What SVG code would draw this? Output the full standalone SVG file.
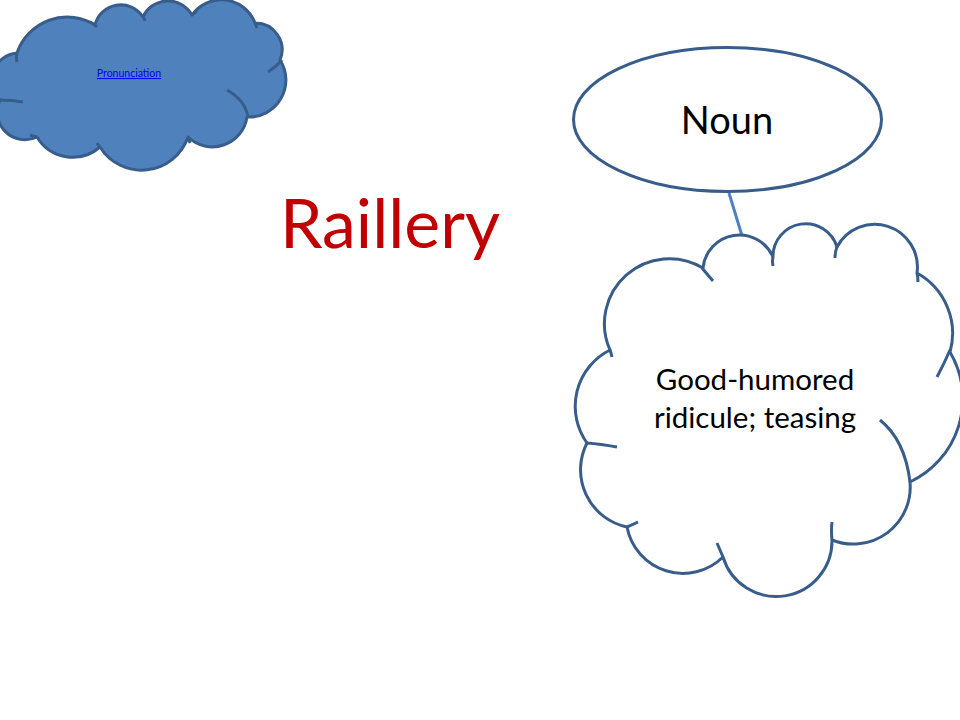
<svg xmlns="http://www.w3.org/2000/svg" width="960" height="720" viewBox="0 0 960 720">
<style>
.cloud{stroke:#385D8A;stroke-width:3;stroke-linejoin:round}
.tick{fill:none;stroke:#385D8A;stroke-width:3;stroke-linecap:butt}
.lbl{font-family:Lato,"Open Sans","Liberation Sans",sans-serif;fill:#000}
</style>
<rect width="960" height="720" fill="#fff"/>
<g id="pronunciation">
<path class="cloud" fill="#4F81BD" d="M17,53 A53,53 0 0 1 95,25 A26.5,26.5 0 0 1 143,17 A27.5,27.5 0 0 1 192,15 A36,36 0 0 1 255,23 A26.7,26.7 0 0 1 280,60 A37,37 0 0 1 247,117 A35,35 0 0 1 188,137 A49,49 0 0 1 100,147 A41.6,41.6 0 0 1 37,137 A27.7,27.7 0 0 1 0,100 A27.5,27.5 0 0 1 17,53 Z"/>
<path class="tick" d="M17,53 Q16,58 17,62 M90,22 Q94,24 97,27 M143,16 Q144,18 145,21 M192,15 Q194,13 197,11 M255,23 Q256,25 257,28 M282,60 Q276,67 268,72 M227,90 Q245,100 248,117 M188,137 Q189,140 190,143 M100,147 Q98,145 97,143 M37,137 Q33,136 30,135 M0,100 Q12,100 23,102"/>
<text x="129" y="77" text-anchor="middle" font-family="Lato,'Open Sans','Liberation Sans',sans-serif" font-size="10.5" fill="#0000FF" text-decoration="underline">Pronunciation</text>
</g>
<text id="title" x="390" y="248" text-anchor="middle" font-family="Lato,'Open Sans','Liberation Sans',sans-serif" font-size="68" fill="#C00000">Raillery</text>
<g id="connectors">
<line x1="729" y1="193" x2="743" y2="239" stroke="#4F81BD" stroke-width="3"/>
</g>
<g id="noun">
<ellipse cx="727.5" cy="119.5" rx="154" ry="72" fill="#fff" stroke="#385D8A" stroke-width="3"/>
<text class="lbl" x="727" y="134" text-anchor="middle" font-size="38">Noun</text>
</g>
<g id="definition">
<path class="cloud" fill="#fff" d="M703,268 A36.6,36.6 0 0 1 773,257 A32.7,32.7 0 0 1 837,247 A42.7,42.7 0 0 1 917,273 A69,69 0 0 1 950,352 A92,92 0 0 1 910,482 A57,57 0 0 1 832,540 A55.7,55.7 0 0 1 723,557 A57,57 0 0 1 627,527 A58.5,58.5 0 0 1 587,443 A63,63 0 0 1 610,350 A65,65 0 0 1 703,268 Z"/>
<path class="tick" d="M702,268 Q707,274 713,281 M773,257 Q772,261 773,266 M837,247 Q835,252 835,258 M917,273 Q918,277 918,282 M950,350 Q944,364 937,377 M880,420 Q905,440 910,482 M832,522 Q831,531 832,540 M717,543 Q720,550 723,557 M638,522 Q632,525 627,527 M617,447 Q600,444 587,443 M612,357 Q611,353 610,350"/>
<text class="lbl" x="755" y="390" text-anchor="middle" font-size="29.5">Good-humored</text>
<text class="lbl" x="755" y="428" text-anchor="middle" font-size="29.5">ridicule; teasing</text>
</g>
</svg>
